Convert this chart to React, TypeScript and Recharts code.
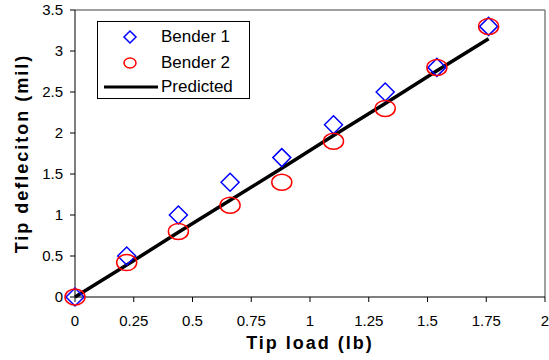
import { ScatterChart, Scatter, XAxis, YAxis, ReferenceLine } from 'recharts'

const tipLoads = [0, 0.22, 0.44, 0.66, 0.88, 1.1, 1.32, 1.54, 1.76]
const bender1 = [0, 0.5, 1.0, 1.4, 1.7, 2.1, 2.5, 2.8, 3.3]
const bender2 = [0, 0.42, 0.8, 1.12, 1.4, 1.9, 2.3, 2.8, 3.3]
const predicted = [0, 0.39, 0.79, 1.18, 1.57, 1.97, 2.36, 2.76, 3.15]
const xTicks = [0, 0.25, 0.5, 0.75, 1, 1.25, 1.5, 1.75, 2]
const yTicks = [0, 0.5, 1, 1.5, 2, 2.5, 3, 3.5]

const font = '"Liberation Sans", Arial, Helvetica, sans-serif'

const b1Data = tipLoads.map((x, i) => ({ x, y: bender1[i] }))
const b2Data = tipLoads.map((x, i) => ({ x, y: bender2[i] }))
const predData = tipLoads.map((x, i) => ({ x, y: predicted[i] }))

const Diamond = (props: any) => {
  const { cx, cy } = props
  if (cx == null || cy == null) return null
  const r = 9
  return (
    <path
      d={`M${cx},${cy - r} L${cx + r},${cy} L${cx},${cy + r} L${cx - r},${cy} Z`}
      fill="none"
      stroke="#0000ff"
      strokeWidth={1.5}
    />
  )
}

const Oval = (props: any) => {
  const { cx, cy } = props
  if (cx == null || cy == null) return null
  return <ellipse cx={cx} cy={cy} rx={10} ry={8} fill="none" stroke="#ff0000" strokeWidth={1.5} />
}

const NoDot = () => <g />

// legend box drawn over the chart, like the Excel one
const LegendBox = () => (
  <div
    style={{
      position: 'absolute',
      left: 97,
      top: 21,
      width: 153,
      height: 78,
      border: '1px solid #000',
      background: '#fff',
      fontFamily: font,
      fontSize: 17,
      color: '#000',
      boxSizing: 'border-box',
    }}
  >
    <div style={{ display: 'flex', alignItems: 'center', height: 26, marginTop: 2 }}>
      <svg width={63} height={20} style={{ flex: 'none' }}>
        <path d="M32,4 L38,10 L32,16 L26,10 Z" fill="none" stroke="#0000ff" strokeWidth={1.5} />
      </svg>
      <span>Bender 1</span>
    </div>
    <div style={{ display: 'flex', alignItems: 'center', height: 26 }}>
      <svg width={63} height={20} style={{ flex: 'none' }}>
        <ellipse cx={32} cy={10} rx={6} ry={5} fill="none" stroke="#ff0000" strokeWidth={1.5} />
      </svg>
      <span>Bender 2</span>
    </div>
    <div style={{ display: 'flex', alignItems: 'center', height: 22 }}>
      <svg width={63} height={20} style={{ flex: 'none' }}>
        <line x1={6} y1={10} x2={60} y2={10} stroke="#000" strokeWidth={3} />
      </svg>
      <span>Predicted</span>
    </div>
  </div>
)

const titleStyle = { fontSize: 18, fontWeight: 'bold', fontFamily: font, fill: '#000', letterSpacing: 2 }

export default function App() {
  return (
    <div style={{ position: 'absolute', left: 0, top: 0, width: 549, height: 360, background: '#fff' }}>
      <ScatterChart width={549} height={360} margin={{ top: 10, right: 4, left: 0, bottom: 0 }}>
        <XAxis
          type="number"
          dataKey="x"
          domain={[0, 2]}
          ticks={xTicks}
          interval={0}
          height={63}
          stroke="#000"
          tickSize={5}
          tickMargin={13}
          tick={{ fill: '#000', fontSize: 15, fontFamily: font }}
          label={{
            value: 'Tip load (lb)',
            position: 'insideBottom',
            offset: 11,
            style: titleStyle,
          }}
        />
        <YAxis
          type="number"
          dataKey="y"
          domain={[0, 3.5]}
          ticks={yTicks}
          interval={0}
          width={75}
          stroke="#000"
          tickSize={5}
          tickMargin={7}
          tick={{ fill: '#000', fontSize: 15, fontFamily: font }}
          label={{
            value: 'Tip defleciton (mil)',
            angle: -90,
            position: 'insideLeft',
            offset: 22,
            style: { ...titleStyle, textAnchor: 'middle' },
          }}
        />
        <ReferenceLine y={3.5} stroke="#808080" strokeWidth={1.5} />
        <ReferenceLine x={2} stroke="#808080" strokeWidth={1.5} />
        <Scatter
          name="Predicted"
          data={predData}
          line={{ stroke: '#000', strokeWidth: 3.5 }}
          shape={<NoDot />}
          isAnimationActive={false}
        />
        <Scatter name="Bender 1" data={b1Data} shape={<Diamond />} isAnimationActive={false} />
        <Scatter name="Bender 2" data={b2Data} shape={<Oval />} isAnimationActive={false} />
      </ScatterChart>
      <LegendBox />
    </div>
  )
}
